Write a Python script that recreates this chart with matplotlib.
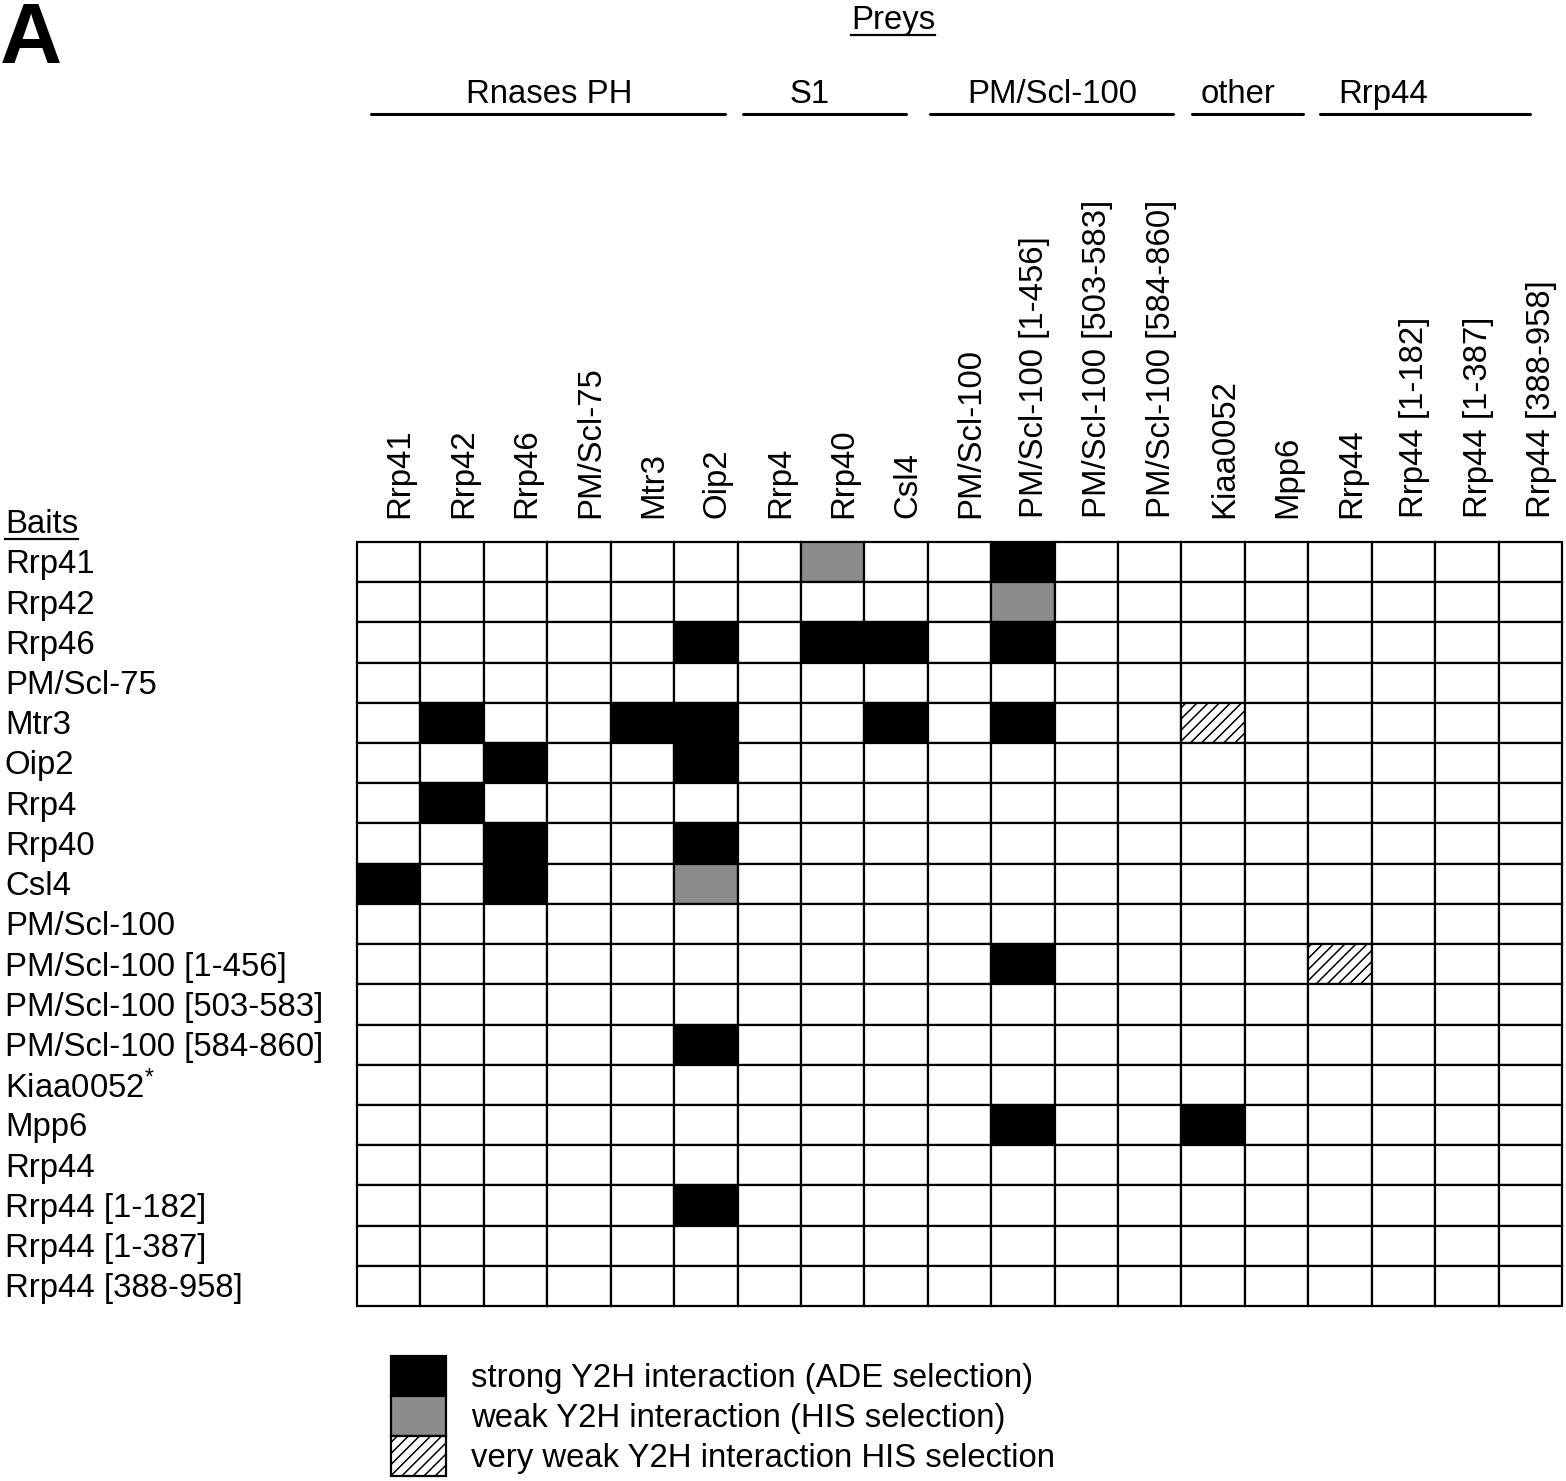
import matplotlib
matplotlib.use('Agg')
import matplotlib.pyplot as plt
from matplotlib.patches import Rectangle
from matplotlib.lines import Line2D
import matplotlib.transforms as mtransforms

plt.rcParams['font.family'] = ['Liberation Sans', 'DejaVu Sans']
plt.rcParams['mathtext.fontset'] = 'custom'
plt.rcParams['mathtext.rm'] = 'Liberation Sans'
plt.rcParams['mathtext.it'] = 'Liberation Sans'
plt.rcParams['hatch.linewidth'] = 1.1

fontsize = 23.7

# ---- data ----
preys = ["Rrp41", "Rrp42", "Rrp46", "PM/Scl-75", "Mtr3", "Oip2", "Rrp4", "Rrp40", "Csl4",
         "PM/Scl-100", "PM/Scl-100 [1-456]", "PM/Scl-100 [503-583]", "PM/Scl-100 [584-860]",
         "Kiaa0052", "Mpp6", "Rrp44", "Rrp44 [1-182]", "Rrp44 [1-387]", "Rrp44 [388-958]"]
baits = list(preys)
starred_baits = ["Kiaa0052"]

groups = ["Rnases PH", "S1", "PM/Scl-100", "other", "Rrp44"]
group_first = [0, 6, 9, 13, 15]
group_last = [5, 8, 12, 14, 18]

strong = [("Rrp41", "PM/Scl-100 [1-456]"),
          ("Rrp46", "Oip2"), ("Rrp46", "Rrp40"), ("Rrp46", "Csl4"), ("Rrp46", "PM/Scl-100 [1-456]"),
          ("Mtr3", "Rrp42"), ("Mtr3", "Mtr3"), ("Mtr3", "Oip2"), ("Mtr3", "Csl4"),
          ("Mtr3", "PM/Scl-100 [1-456]"),
          ("Oip2", "Rrp46"), ("Oip2", "Oip2"),
          ("Rrp4", "Rrp42"),
          ("Rrp40", "Rrp46"), ("Rrp40", "Oip2"),
          ("Csl4", "Rrp41"), ("Csl4", "Rrp46"),
          ("PM/Scl-100 [1-456]", "PM/Scl-100 [1-456]"),
          ("PM/Scl-100 [584-860]", "Oip2"),
          ("Mpp6", "PM/Scl-100 [1-456]"), ("Mpp6", "Kiaa0052"),
          ("Rrp44 [1-182]", "Oip2")]
weak = [("Rrp41", "Rrp40"), ("Rrp42", "PM/Scl-100 [1-456]"), ("Csl4", "Oip2")]
very_weak = [("Mtr3", "Kiaa0052"), ("PM/Scl-100 [1-456]", "Rrp44")]

legend_labels = ["strong Y2H interaction (ADE selection)",
                 "weak Y2H interaction (HIS selection)",
                 "very weak Y2H interaction HIS selection"]

# ---- styles ----
gray = '#8c8c8c'
lw = 1.6
# header line extents / text centres (in column units), tuned to the figure
group_line_start = [0.22, 6.08, 9.03, 13.16, 15.19]
group_line_end = [5.8, 8.65, 12.87, 14.91, 18.5]
group_text_x = [3.03, 7.14, 10.97, 13.89, 16.18]

W, H = 1566, 1481
fig = plt.figure(figsize=(W / 100, H / 100), dpi=100)
ax = fig.add_axes([357 / W, 1 - 1306 / H, (1562 - 357) / W, (1306 - 542) / H])
ax.set_xlim(0, len(preys))
ax.set_ylim(len(baits), 0)
ax.axis('off')

# cells
kind = {}
for b, p in strong:
    kind[(b, p)] = 'strong'
for b, p in weak:
    kind[(b, p)] = 'weak'
for b, p in very_weak:
    kind[(b, p)] = 'vweak'

for i, b in enumerate(baits):
    for j, p in enumerate(preys):
        k = kind.get((b, p))
        fc = 'white'
        hatch = None
        if k == 'strong':
            fc = 'black'
        elif k == 'weak':
            fc = gray
        elif k == 'vweak':
            hatch = '///'
        ax.add_patch(Rectangle((j, i), 1, 1, facecolor=fc, edgecolor='black',
                               lw=lw, hatch=hatch, clip_on=False))

# column labels
for j, p in enumerate(preys):
    ax.text(j + 0.68, -0.6, p, rotation=90, ha='center', va='bottom',
            fontsize=fontsize, clip_on=False)

# row labels
trans = mtransforms.blended_transform_factory(fig.transFigure, ax.transData)
for i, b in enumerate(baits):
    label = b + r'$^{*}$' if b in starred_baits else b
    ax.text(5 / W, i + 0.57, label, transform=trans, ha='left', va='center',
            fontsize=fontsize)

baits_txt = ax.text(5 / W, -0.43, "Baits", transform=trans, ha='left', va='center',
                    fontsize=fontsize)

# group headers
for g in range(len(groups)):
    ax.plot([group_line_start[g], group_line_end[g]], [-10.65, -10.65], color='black',
            lw=2.2, clip_on=False, solid_capstyle='round')
    ax.text(group_text_x[g], -11.12, groups[g], ha='center', va='center',
            fontsize=fontsize, clip_on=False)

preys_txt = ax.text(8.45, -12.98, "Preys", ha='center', va='center',
                    fontsize=fontsize, clip_on=False)

fig.text(0.0, 1 - 1 / H, "A", ha='left', va='top', fontsize=62, fontweight='bold',
         family=['Liberation Sans Narrow', 'DejaVu Sans Condensed', 'Liberation Sans'])

# legend
lax = fig.add_axes([391 / W, 1 - 1476 / H, 55 / W, 120 / H])
lax.set_xlim(0, 1)
lax.set_ylim(3, 0)
lax.axis('off')
leg_fc = ['black', gray, 'white']
leg_hatch = [None, None, '///']
for i in range(3):
    lax.add_patch(Rectangle((0, i), 1, 1, facecolor=leg_fc[i], edgecolor='black',
                            lw=lw, hatch=leg_hatch[i], clip_on=False))
    lax.text(1.45, i + 0.55, legend_labels[i], ha='left', va='center',
             fontsize=fontsize, clip_on=False)

# underlines for Baits / Preys
fig.canvas.draw()
r = fig.canvas.get_renderer()
for t in (baits_txt, preys_txt):
    bb = t.get_window_extent(r)
    y = bb.y0 + 1
    fig.add_artist(Line2D([bb.x0 / W, bb.x1 / W], [y / H, y / H], color='black', lw=1.6))

fig.savefig('out.png', dpi=100)
